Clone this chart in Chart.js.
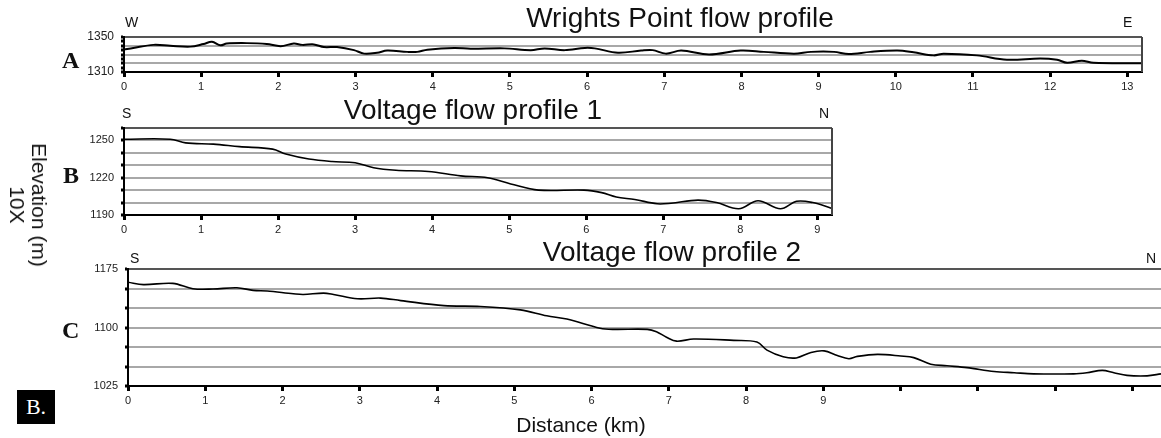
<!DOCTYPE html>
<html>
<head>
<meta charset="utf-8">
<script src="https://cdn.jsdelivr.net/npm/chart.js@4.4.0/dist/chart.umd.min.js"></script>
<style>
  body { margin: 0; background: #fff; width: 1161px; height: 438px; overflow: hidden; position: relative;
         font-family: "Liberation Sans", Arial, sans-serif; color: #111; }
  canvas { position: absolute; left: 0; }
  .t { position: absolute; white-space: nowrap; line-height: 1; }
  .title { font-size: 28px; transform: translateX(-50%); }
  .dir { font-size: 14px; }
  .lab { font-family: "Liberation Serif", "Times New Roman", serif; font-weight: bold; font-size: 24px; }
  .box { position: absolute; left: 17px; top: 390px; width: 38px; height: 34px; background: #000; color: #fff;
         font-family: "Liberation Serif", "Times New Roman", serif; font-size: 22px;
         display: flex; align-items: center; justify-content: center; }
  .ylab { position: absolute; left: 28px; top: 205px; font-size: 21px; line-height: 22px; text-align: center;
          white-space: nowrap; transform: translate(-50%, -50%) rotate(90deg); }
</style>
</head>
<body>
<canvas id="chartA" width="1161" height="84" style="top:16px"></canvas>
<canvas id="chartB" width="1161" height="140" style="top:100px"></canvas>
<canvas id="chartC" width="1161" height="175" style="top:240px"></canvas>

<div class="t title" style="left:680px; top:4px">Wrights Point flow profile</div>
<div class="t title" style="left:473px; top:96px">Voltage flow profile 1</div>
<div class="t title" style="left:672px; top:238px">Voltage flow profile 2</div>

<div class="t dir" style="left:125px; top:15px">W</div>
<div class="t dir" style="left:1123px; top:15px">E</div>
<div class="t dir" style="left:122px; top:106px">S</div>
<div class="t dir" style="left:819px; top:106px">N</div>
<div class="t dir" style="left:130px; top:251px">S</div>
<div class="t dir" style="left:1146px; top:251px">N</div>

<div class="t lab" style="left:62px; top:48px">A</div>
<div class="t lab" style="left:63px; top:163px">B</div>
<div class="t lab" style="left:62px; top:318px">C</div>
<div class="box">B.</div>

<div class="ylab">Elevation (m)<br>10X</div>
<div class="t" style="left:581px; top:414px; font-size:21px; transform:translateX(-50%)">Distance (km)</div>

<script>
// Profil A - Wrights Point (km, m)
var distA = [0, 0.12, 0.38, 0.6, 0.86, 1.03, 1.14, 1.25, 1.33, 1.59, 1.85, 2.03, 2.2, 2.31, 2.46,
  2.59, 2.76, 2.98, 3.11, 3.28, 3.41, 3.67, 3.8, 3.93, 4.28, 4.49, 4.93, 5.27, 5.45, 5.71, 5.97,
  6.1, 6.4, 6.7, 6.85, 7.02, 7.22, 7.58, 7.99, 8.29, 8.68, 8.9, 9.2, 9.39, 9.67, 10.02, 10.23, 10.49,
  10.62, 11.05, 11.44, 11.87, 12.09, 12.22, 12.41, 12.56, 13.19];
var elevA = [1335.7, 1337.5, 1341, 1340, 1339, 1342, 1344.5, 1340.5, 1342.5, 1343, 1342, 1339.5, 1342.5, 1341, 1341.5,
  1338.5, 1338.5, 1335, 1331, 1332, 1334.5, 1333, 1333, 1335.5, 1337.5, 1336.5, 1337, 1335, 1337, 1335, 1337.5,
  1337, 1332, 1334.5, 1335, 1331, 1334.5, 1330, 1334.5, 1333, 1331, 1333, 1333, 1330.5, 1333, 1334.5, 1332.5, 1329,
  1331, 1329, 1324, 1325.5, 1324, 1320.5, 1323, 1320.5, 1320];

// Profil B - Voltage 1
var distB = [0, 0.6, 0.8, 1.16, 1.5, 1.93, 2.1, 2.4, 2.7, 3.0, 3.24, 3.53, 3.95, 4.37, 4.72, 5.02,
  5.38, 5.97, 6.2, 6.39, 6.63, 6.92, 7.1, 7.45, 7.69, 7.98, 8.23, 8.52, 8.73, 8.94, 9.18];
var elevB = [1251, 1251, 1248, 1247, 1245, 1243, 1239, 1235, 1233, 1232, 1228, 1226, 1225, 1221.5, 1220, 1215,
  1210, 1210, 1208, 1204.5, 1202.5, 1199, 1199.5, 1202, 1200, 1195, 1201.5, 1195, 1201, 1200, 1195.5];

// Profil C - Voltage 2
var distC = [0, 0.2, 0.58, 0.84, 1.1, 1.41, 1.62, 1.8, 2.14, 2.27, 2.53, 2.66, 2.97, 3.27, 3.53, 4.09,
  4.56, 5.08, 5.42, 5.68, 6.11, 6.28, 6.72, 6.84, 6.97, 7.1, 7.32, 7.84, 8.14, 8.27, 8.48, 8.65, 8.84,
  9.01, 9.18, 9.33, 9.44, 9.7, 10.0, 10.17, 10.39, 10.6, 10.86, 11.21, 11.47, 11.72, 12.24, 12.41,
  12.61, 12.76, 12.93, 13.19, 13.37];
var elevC = [1158, 1155, 1156.6, 1149.7, 1149.3, 1151, 1147.6, 1146.7, 1143.3, 1142.4, 1144.1, 1142.4, 1136.9, 1137.7, 1134.5, 1128,
  1127, 1122.6, 1115, 1110.8, 1099.1, 1097.6, 1097.6, 1094.6, 1087.5, 1082.5, 1085.3, 1083.5, 1081.4, 1071, 1062.5, 1061, 1068,
  1070, 1064, 1060, 1063, 1065.6, 1063.5, 1061.4, 1053, 1051, 1048.6, 1043.6, 1042, 1040.6, 1040.6, 1042,
  1045, 1042, 1038.6, 1038, 1040.6];

// label sumbu Y yang ditampilkan
var yLabelsA = [1350, 1310];
var yLabelsB = [1250, 1220, 1190];
var yLabelsC = [1175, 1100, 1025];

// garis tepi kanan
var frame = {
  id: "frame",
  afterDraw: function (chart, args, opts) {
    if (!opts.right) return;
    var a = chart.chartArea, g = chart.ctx;
    g.save();
    g.strokeStyle = "#444";
    g.lineWidth = 2;
    g.beginPath();
    g.moveTo(a.right, a.top);
    g.lineTo(a.right, a.bottom);
    g.stroke();
    g.restore();
  },
};

function profile(id, dist, elev, o) {
  var pts = dist.map(function (d, i) { return { x: d, y: elev[i] }; });
  return new Chart(document.getElementById(id), {
    type: "line",
    data: {
      datasets: [{
        data: pts,
        borderColor: "#000",
        borderWidth: o.lw,
        pointRadius: 0,
        tension: 0.35,
        fill: false,
      }],
    },
    options: {
      responsive: false,
      animation: false,
      layout: { padding: { left: 0, right: o.padRight, top: o.padTop, bottom: 0 } },
      plugins: { legend: { display: false }, tooltip: { enabled: false }, frame: { right: o.right } },
      scales: {
        x: {
          type: "linear",
          min: 0,
          max: o.xMax,
          afterFit: function (s) { s.height = o.xH; },
          border: { color: "#000", width: 2 },
          grid: { drawOnChartArea: false, tickLength: 5, tickWidth: 3, tickColor: "#000" },
          ticks: {
            stepSize: 1,
            autoSkip: false,
            includeBounds: false,
            maxRotation: 0,
            padding: 3,
            color: "#222",
            font: { family: "Liberation Sans", size: 11 },
            callback: function (v) { return v <= o.xLast ? v : ""; },
          },
        },
        y: {
          min: o.yMin,
          max: o.yMax,
          afterFit: function (s) { s.width = o.yW; },
          border: { color: "#000", width: 2 },
          grid: {
            color: function (c) {
              var v = c.tick.value;
              if (v === o.yMax) return "#555";
              if (v === o.yMin) return "#000";
              return (v - o.yMin) % o.grid === 0 ? "#a8a8a8" : "rgba(0,0,0,0)";
            },
            lineWidth: 2,
            tickLength: 3,
            tickWidth: 3,
            tickColor: "#000",
          },
          ticks: {
            stepSize: o.step,
            autoSkip: false,
            padding: 7,
            color: "#222",
            font: { family: "Liberation Sans", size: o.yFont },
            callback: function (v) { return o.yLabels.indexOf(v) >= 0 ? v : ""; },
          },
        },
      },
    },
    plugins: [frame],
  });
}

profile("chartA", distA, elevA, {
  xMax: 13.19, xLast: 13, yMin: 1310, yMax: 1350, step: 5, grid: 10, yLabels: yLabelsA,
  yW: 124, xH: 28, padTop: 21, padRight: 19, right: true, lw: 2, yFont: 12,
});
profile("chartB", distB, elevB, {
  xMax: 9.19, xLast: 9, yMin: 1190, yMax: 1260, step: 10, grid: 10, yLabels: yLabelsB,
  yW: 124, xH: 25, padTop: 28, padRight: 329, right: true, lw: 1.6, yFont: 11,
});
profile("chartC", distC, elevC, {
  xMax: 13.37, xLast: 9, yMin: 1025, yMax: 1175, step: 25, grid: 25, yLabels: yLabelsC,
  yW: 128, xH: 29, padTop: 29, padRight: 0, right: false, lw: 1.6, yFont: 11,
});
</script>
</body>
</html>
